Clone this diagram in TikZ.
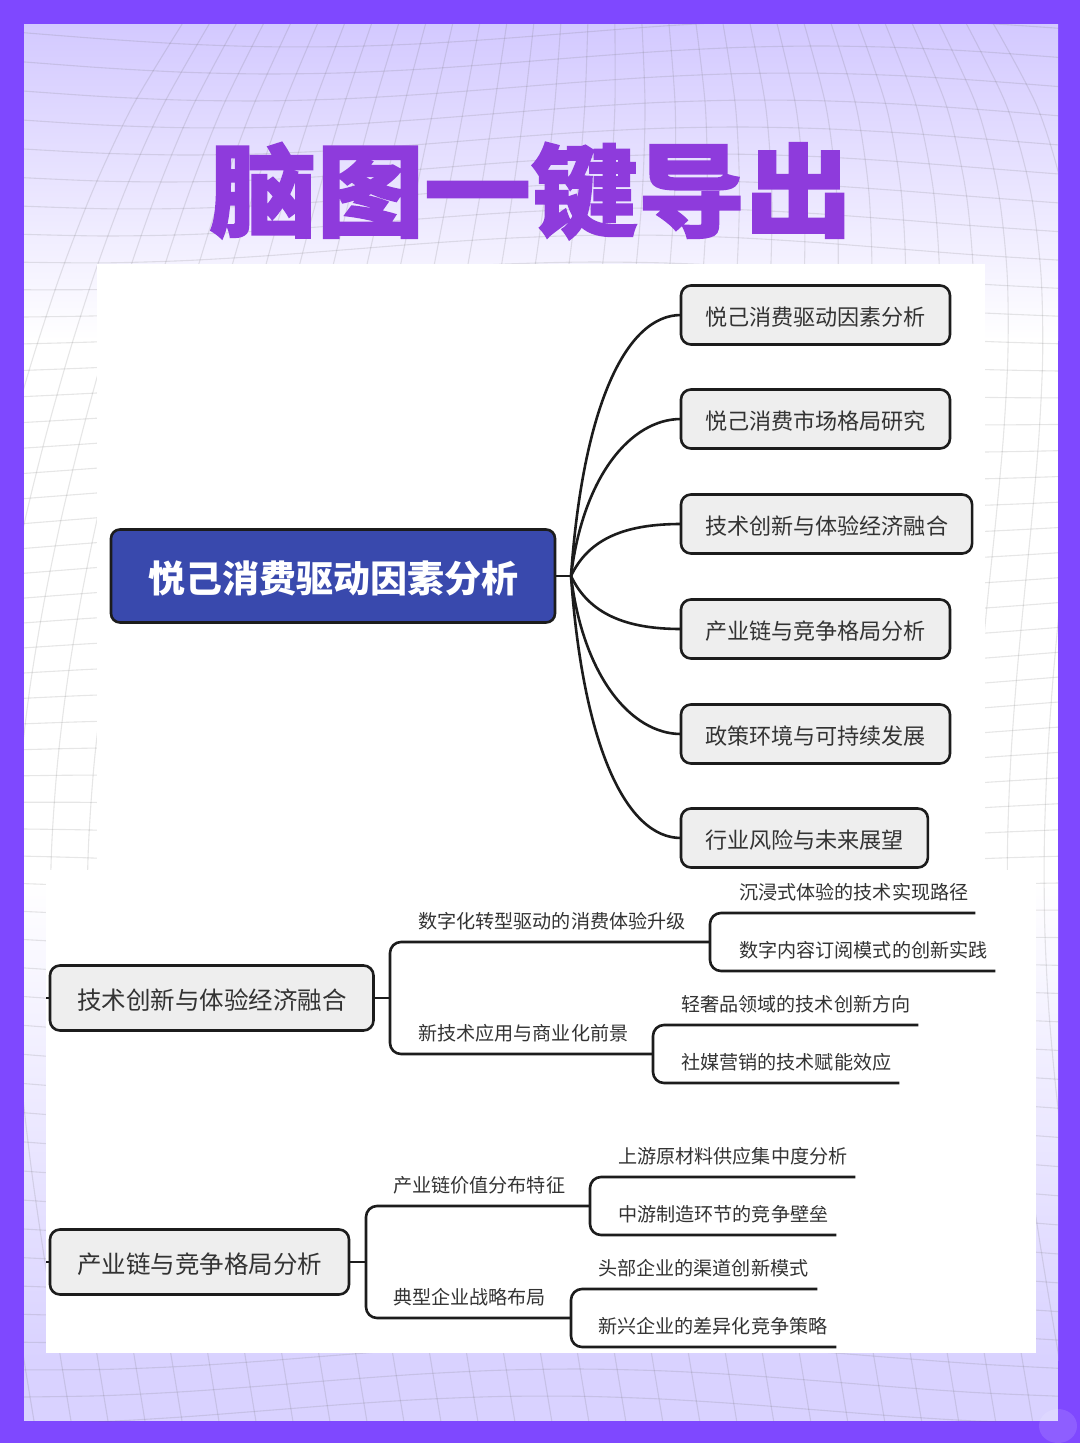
\documentclass[tikz,border=0pt]{standalone}
\usepackage{fontspec}
\setmainfont{Noto Sans CJK SC}
\newfontfamily\titlefont[BoldFeatures={FakeBold=1.6}]{Noto Sans CJK SC}
\usetikzlibrary{calc}
\definecolor{frame}{HTML}{7F48FF}
\definecolor{paletop}{HTML}{D3C9FF}
\definecolor{palelow}{HTML}{D9D2FF}
\definecolor{titlecol}{HTML}{8E3BDC}
\definecolor{rootcol}{HTML}{3949AD}
\definecolor{boxcol}{HTML}{EEEEEE}
\definecolor{inkcol}{HTML}{1C1C1C}
\definecolor{textcol}{HTML}{333333}
\begin{document}
\begin{tikzpicture}[x=1pt, y=-1pt,
        gridline/.style={line width=1.1pt, black!60, opacity=.16},
        link/.style={line width=2.6pt, inkcol},
        elbow/.style={line width=2.6pt, inkcol, rounded corners=11pt},
        rootbox/.style={draw=inkcol, line width=2.6pt, fill=rootcol, rounded corners=9pt, anchor=west, outer sep=0pt,
            text=white, font=\fontsize{37}{37}\selectfont\bfseries, text height=36pt, text depth=3pt,
            minimum height=93pt, inner xsep=37pt},
        topicbox/.style={draw=inkcol, line width=2.6pt, fill=boxcol, rounded corners=10pt, anchor=west, outer sep=0pt,
            text=textcol, font=\fontsize{22.1}{22.1}\selectfont, text height=21.5pt, text depth=1.5pt,
            minimum height=59pt, inner xsep=24pt},
        mainbox/.style={topicbox, font=\fontsize{24.5}{24.5}\selectfont, text height=24pt, text depth=2pt,
            minimum height=65pt, inner xsep=27pt},
        branch/.style={anchor=south west, text=textcol, font=\fontsize{19.1}{19.1}\selectfont,
            minimum height=42pt, inner sep=0pt, align=left},
    ]
    \useasboundingbox (0,0) rectangle (1080,1443);
    \fill[frame] (0,0) rectangle (1080,1443);
    \shade[top color=paletop, bottom color=white] (24,24) rectangle (1058,340);
    \fill[white] (24,340) rectangle (1058,880);
    \shade[top color=white, bottom color=palelow] (24,880) rectangle (1058,1360);
    \fill[palelow] (24,1360) rectangle (1058,1421);
    \begin{scope}
        \clip (24,24) rectangle (1058,1421);
        \foreach \k in {-2,...,51}
            \draw[gridline] plot[domain=24:1058, samples=14, smooth]
                (\x,{60+\k*27+14*sin(\x*0.33+\k*9)});
        \foreach \k in {-15,...,15}
            \draw[gridline] plot[domain=24:1421, samples=18, smooth]
                ({540+\k*37*(0.7+0.3*(1-exp(-\x/220)))+48*cos(\x*0.2)},\x);
    \end{scope}
    \fill[white] (97,264) rectangle (985,870);
    \fill[white] (46,870) rectangle (1036,1353);
    \fill[white, opacity=.12] (1058,1426) ellipse (19pt and 17pt);

    \node[text=titlecol, font=\titlefont\fontsize{106}{106}\selectfont\bfseries,
        xscale=1.01, yscale=.95, transform shape] (title) at (531,191) {脑图一键导出};

    \node[rootbox] (root) at (111,576) {悦己消费驱动因素分析};
    \coordinate (hub) at (571,576);
    \draw[link] (root.east) -- (hub);
    \node[topicbox] (t1) at (681,315) {悦己消费驱动因素分析};
    \node[topicbox] (t2) at (681,419) {悦己消费市场格局研究};
    \node[topicbox] (t3) at (681,524) {技术创新与体验经济融合};
    \node[topicbox] (t4) at (681,629) {产业链与竞争格局分析};
    \node[topicbox] (t5) at (681,734) {政策环境与可持续发展};
    \node[topicbox] (t6) at (681,838) {行业风险与未来展望};
    \draw[link] (hub) .. controls +(12,-170) and +(-55,0) .. (t1.west);
    \draw[link] (hub) .. controls +(12,-100) and +(-50,0) .. (t2.west);
    \draw[link] (hub) .. controls +(18,-38) and +(-55,0) .. (t3.west);
    \draw[link] (hub) .. controls +(18,38) and +(-55,0) .. (t4.west);
    \draw[link] (hub) .. controls +(12,100) and +(-50,0) .. (t5.west);
    \draw[link] (hub) .. controls +(12,170) and +(-55,0) .. (t6.west);

    \node[mainbox] (tech) at (50,998) {技术创新与体验经济融合};
    \node[branch, text width=320pt] (tech1) at (390,942) {\hspace*{28pt}数字化转型驱动的消费体验升级};
    \node[branch, text width=263pt] (tech2) at (390,1054) {\hspace*{28pt}新技术应用与商业化前景};
    \node[branch, text width=265pt] (tech1a) at (710,913) {\hspace*{29pt}沉浸式体验的技术实现路径};
    \node[branch, text width=285pt] (tech1b) at (710,971) {\hspace*{29pt}数字内容订阅模式的创新实践};
    \node[branch, text width=265pt] (tech2a) at (653,1025) {\hspace*{28pt}轻奢品领域的技术创新方向};
    \node[branch, text width=246pt] (tech2b) at (653,1083) {\hspace*{28pt}社媒营销的技术赋能效应};
    \draw[link] (tech.west) -- ++(-4,0);
    \draw[link] (tech.east) -- (tech.east -| tech1.south west);
    \draw[elbow] (tech1.south east) -- (tech1.south west) -- (tech2.south west) -- (tech2.south east);
    \draw[elbow] (tech1a.south east) -- (tech1a.south west) -- (tech1b.south west) -- (tech1b.south east);
    \draw[elbow] (tech2a.south east) -- (tech2a.south west) -- (tech2b.south west) -- (tech2b.south east);

    \node[mainbox] (prod) at (50,1262) {产业链与竞争格局分析};
    \node[branch, text width=224pt] (prod1) at (366,1206) {\hspace*{27pt}产业链价值分布特征};
    \node[branch, text width=205pt] (prod2) at (366,1318) {\hspace*{27pt}典型企业战略布局};
    \node[branch, text width=265pt] (prod1a) at (590,1177) {\hspace*{28pt}上游原材料供应集中度分析};
    \node[branch, text width=246pt] (prod1b) at (590,1235) {\hspace*{28pt}中游制造环节的竞争壁垒};
    \node[branch, text width=246pt] (prod2a) at (571,1289) {\hspace*{27pt}头部企业的渠道创新模式};
    \node[branch, text width=265pt] (prod2b) at (571,1347) {\hspace*{27pt}新兴企业的差异化竞争策略};
    \draw[link] (prod.west) -- ++(-4,0);
    \draw[link] (prod.east) -- (prod.east -| prod1.south west);
    \draw[elbow] (prod1.south east) -- (prod1.south west) -- (prod2.south west) -- (prod2.south east);
    \draw[elbow] (prod1a.south east) -- (prod1a.south west) -- (prod1b.south west) -- (prod1b.south east);
    \draw[elbow] (prod2a.south east) -- (prod2a.south west) -- (prod2b.south west) -- (prod2b.south east);
\end{tikzpicture}
\end{document}
